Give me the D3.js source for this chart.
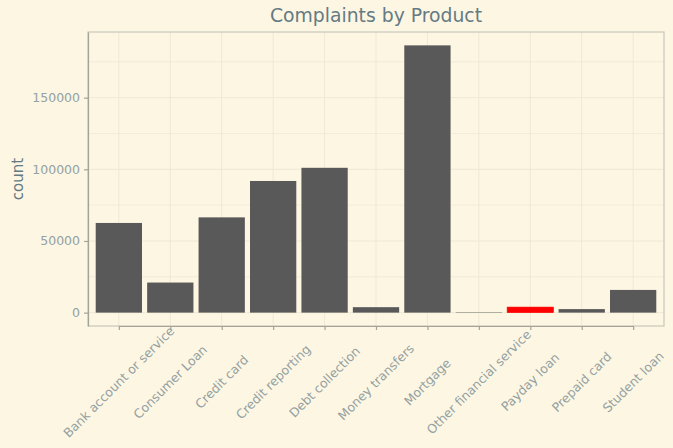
<!DOCTYPE html>
<html>
<head>
<meta charset="utf-8">
<script src="https://cdn.jsdelivr.net/npm/d3@7"></script>
<style>
  body { margin: 0; background: #fdf6e3; }
  svg { display: block; font-family: "DejaVu Sans", sans-serif; }
</style>
</head>
<body>
<div id="chart"></div>
<script>
// ---------- DATA ----------
const products = [
	"Bank account or service",
	"Consumer Loan",
	"Credit card",
	"Credit reporting",
	"Debt collection",
	"Money transfers",
	"Mortgage",
	"Other financial service",
	"Payday loan",
	"Prepaid card",
	"Student loan",
];
const counts = [62563, 20990, 66468, 91854, 101052, 3812, 186475, 292, 3877, 2470, 15839];
const highlighted = ["Payday loan"];
const yTicks = [0, 50000, 100000, 150000];
const yMinorTicks = [25000, 75000, 125000, 175000];

const width = 673;
const height = 448;
const margin = { top: 32, right: 9, bottom: 122, left: 88 };

const svg = d3
	.select("#chart")
	.append("svg")
	.attr("width", width)
	.attr("height", height);

svg.append("rect")
	.attr("width", width)
	.attr("height", height)
	.attr("fill", "#fdf6e3");

const data = products.map((p, i) => ({ product: p, count: counts[i] }));

// scales (ggplot style expansion)
const n = products.length;
const plotW = width - margin.left - margin.right;
const unit = plotW / (n - 1 + 1.2);
const xScale = d3
	.scalePoint()
	.domain(products)
	.range([margin.left + 0.6 * unit, width - margin.right - 0.6 * unit]);
const barW = unit * 0.9;

const maxY = d3.max(counts);
const yScale = d3
	.scaleLinear()
	.domain([-0.05 * maxY, maxY * 1.05])
	.range([height - margin.bottom, margin.top]);

const gridG = svg.append("g");
gridG.selectAll(".minor")
	.data(yMinorTicks)
	.join("line")
	.attr("x1", margin.left)
	.attr("x2", width - margin.right)
	.attr("y1", (d) => yScale(d))
	.attr("y2", (d) => yScale(d))
	.attr("stroke", "#f3ecd9")
	.attr("stroke-width", 1);
gridG.selectAll(".major")
	.data(yTicks)
	.join("line")
	.attr("x1", margin.left)
	.attr("x2", width - margin.right)
	.attr("y1", (d) => yScale(d))
	.attr("y2", (d) => yScale(d))
	.attr("stroke", "#eee8d5")
	.attr("stroke-width", 1);
gridG.selectAll(".vert")
	.data(products)
	.join("line")
	.attr("x1", (d) => xScale(d))
	.attr("x2", (d) => xScale(d))
	.attr("y1", margin.top)
	.attr("y2", height - margin.bottom)
	.attr("stroke", "#eee8d5")
	.attr("stroke-width", 1);

// bars
svg.append("g")
	.selectAll("rect")
	.data(data)
	.join("rect")
	.attr("x", (d) => xScale(d.product) - barW / 2)
	.attr("width", barW)
	.attr("y", (d) => yScale(d.count))
	.attr("height", (d) => yScale(0) - yScale(d.count))
	.attr("fill", (d) => (highlighted.includes(d.product) ? "#ff0000" : "#595959"))
	.attr("stroke", (d) => (highlighted.includes(d.product) ? "#ff0000" : "none"))
	.attr("stroke-width", 0.6);

// panel border (top/right)
svg.append("rect")
	.attr("x", margin.left)
	.attr("y", margin.top)
	.attr("width", plotW)
	.attr("height", height - margin.bottom - margin.top)
	.attr("fill", "none")
	.attr("stroke", "#c9c8bb")
	.attr("stroke-width", 1.2);

// axes
const yAxis = svg
	.append("g")
	.attr("transform", `translate(${margin.left}, 0)`)
	.call(
		d3.axisLeft(yScale)
			.tickValues(yTicks)
			.tickSize(4)
			.tickSizeOuter(0)
			.tickPadding(4)
			.tickFormat(d3.format("d"))
	);
const xAxis = svg
	.append("g")
	.attr("transform", `translate(0, ${height - margin.bottom})`)
	.call(d3.axisBottom(xScale).tickSize(4).tickSizeOuter(0).tickFormat(""));

[yAxis, xAxis].forEach((ax) => {
	ax.select(".domain").attr("stroke", "#a3a39a").attr("stroke-width", 1.2);
	ax.selectAll(".tick line").attr("stroke", "#a3a39a").attr("stroke-width", 1.2);
});
yAxis.selectAll(".tick text")
	.attr("fill", "#93a1a1")
	.attr("font-size", 12.5)
	.attr("font-family", "DejaVu Sans");

// rotated x labels, centred on a common line below the axis
const labelCenterY = 382;
svg.append("g")
	.selectAll("text")
	.data(products)
	.join("text")
	.attr("transform", (d) => `translate(${xScale(d)}, ${labelCenterY}) rotate(-45)`)
	.attr("text-anchor", "middle")
	.attr("dy", "0.35em")
	.attr("font-size", 12.5)
	.attr("fill", "#93a1a1")
	.text((d) => d);

// title
svg.append("text")
	.attr("x", margin.left + plotW / 2)
	.attr("y", 22)
	.attr("text-anchor", "middle")
	.attr("font-size", 18.8)
	.attr("fill", "#657b83")
	.text("Complaints by Product");

// y label
svg.append("text")
	.attr("transform", `translate(23, ${(margin.top + height - margin.bottom) / 2}) rotate(-90)`)
	.attr("text-anchor", "middle")
	.attr("font-size", 15)
	.attr("fill", "#657b83")
	.text("count");
</script>
</body>
</html>
